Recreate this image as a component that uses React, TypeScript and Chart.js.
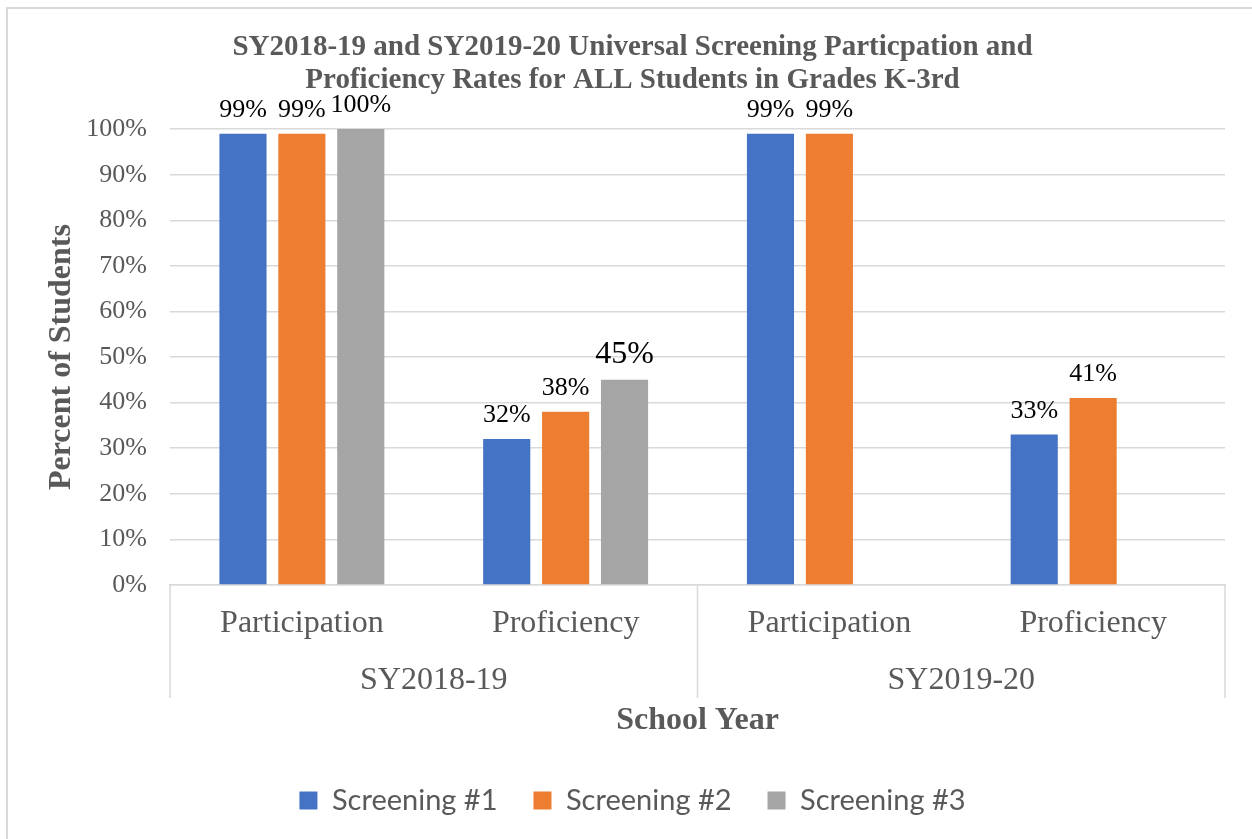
import React, { useEffect, useRef } from "react";
import { Chart, registerables } from "chart.js";

Chart.register(...registerables);

const categories = ["Participation", "Proficiency", "Participation", "Proficiency"];
const groups = ["SY2018-19", "SY2019-20"];
const seriesNames = ["Screening #1", "Screening #2", "Screening #3"];
const screening1 = [99, 32, 99, 33];
const screening2 = [99, 38, 99, 41];
const screening3: (number | null)[] = [100, 45, null, null];
const yTicks = [0, 10, 20, 30, 40, 50, 60, 70, 80, 90, 100];

const colors = ["#4472C4", "#ED7D31", "#A5A5A5"];
const GRAY_TEXT = "#595959";
const GRID = "#d9d9d9";
const SERIF = '"Liberation Serif", "Times New Roman", serif';

// label style overrides ("dataset:index" -> font size)
const labelSizeOverride: Record<string, number> = { "2:1": 32 };

const framePlugin = {
  id: "frame",
  beforeDraw(chart: any) {
    const { ctx, width, height } = chart;
    ctx.save();
    ctx.fillStyle = "#ffffff";
    ctx.fillRect(0, 0, width, height);
    ctx.fillStyle = GRID;
    ctx.fillRect(6, 7, 2, height - 7);
    ctx.fillRect(6, 7, width - 6, 2);
    ctx.restore();
  },
};

const barLabelPlugin = {
  id: "barLabels",
  afterDatasetsDraw(chart: any) {
    const { ctx } = chart;
    ctx.save();
    ctx.fillStyle = "#000000";
    ctx.textAlign = "center";
    ctx.textBaseline = "alphabetic";
    chart.data.datasets.forEach((ds: any, di: number) => {
      const meta = chart.getDatasetMeta(di);
      meta.data.forEach((bar: any, i: number) => {
        const v = ds.data[i];
        if (v === null || v === undefined) return;
        const size = labelSizeOverride[`${di}:${i}`] ?? 26;
        ctx.font = `${size}px ${SERIF}`;
        ctx.fillText(`${v}%`, bar.x, bar.y - 17);
      });
    });
    ctx.restore();
  },
};

const groupAxisPlugin = {
  id: "groupAxis",
  afterDraw(chart: any) {
    const { ctx, chartArea } = chart;
    const x = chart.scales.x;
    const per = categories.length / groups.length;
    const bounds: number[] = [chartArea.left];
    for (let g = 1; g < groups.length; g++) {
      bounds.push((x.getPixelForValue(g * per - 1) + x.getPixelForValue(g * per)) / 2);
    }
    bounds.push(chartArea.right);
    ctx.save();
    ctx.strokeStyle = GRID;
    ctx.lineWidth = 1.5;
    bounds.forEach((bx) => {
      ctx.beginPath();
      ctx.moveTo(bx, chartArea.bottom);
      ctx.lineTo(bx, chartArea.bottom + 113);
      ctx.stroke();
    });
    ctx.fillStyle = GRAY_TEXT;
    ctx.font = `32px ${SERIF}`;
    ctx.textAlign = "center";
    ctx.textBaseline = "middle";
    groups.forEach((g, gi) => {
      ctx.fillText(g, (bounds[gi] + bounds[gi + 1]) / 2, chartArea.bottom + 96);
    });
    ctx.restore();
  },
};

export default function App() {
  const ref = useRef<HTMLCanvasElement>(null);
  useEffect(() => {
    document.body.style.margin = "0";
    const data = [screening1, screening2, screening3];
    const chart = new Chart(ref.current!, {
      type: "bar",
      data: {
        labels: categories,
        datasets: seriesNames.map((name, i) => ({
          label: name,
          data: data[i],
          backgroundColor: colors[i],
          borderWidth: 0,
          categoryPercentage: 0.67,
          barPercentage: 0.8,
        })),
      },
      options: {
        animation: false,
        responsive: false,
        layout: { padding: { left: 40, right: 27, top: 0, bottom: 14 } },
        plugins: {
          title: {
            display: true,
            text: [
              "SY2018-19 and SY2019-20 Universal Screening Particpation and",
              "Proficiency Rates for ALL Students in Grades K-3rd",
            ],
            color: GRAY_TEXT,
            font: { family: SERIF, size: 29, weight: "bold", lineHeight: 1.14 },
            padding: { top: 31, bottom: 32 },
          },
          legend: {
            position: "bottom",
            labels: {
              color: GRAY_TEXT,
              font: { family: "Lato, 'Open Sans', sans-serif", size: 29 },
              boxWidth: 18,
              boxHeight: 18,
              padding: 36,
            },
          },
          tooltip: { enabled: false },
        },
        scales: {
          x: {
            grid: { display: false, drawTicks: false },
            border: { display: true, color: GRID, width: 1.5 },
            ticks: {
              color: GRAY_TEXT,
              font: { family: SERIF, size: 32 },
              padding: 19,
              maxRotation: 0,
            },
            title: {
              display: true,
              text: "School Year",
              color: GRAY_TEXT,
              font: { family: SERIF, size: 32, weight: "bold" },
              padding: { top: 0, bottom: 10 },
            },
            afterFit: (s: any) => {
              s.height = 165;
            },
          },
          y: {
            min: 0,
            max: 100,
            afterBuildTicks: (s: any) => {
              s.ticks = yTicks.map((v) => ({ value: v }));
            },
            grid: { color: GRID, lineWidth: 1.5, drawTicks: false },
            border: { display: false },
            ticks: {
              color: GRAY_TEXT,
              font: { family: SERIF, size: 26 },
              padding: 23,
              callback: (v: any) => `${v}%`,
            },
            title: {
              display: true,
              text: "Percent of Students",
              color: GRAY_TEXT,
              font: { family: SERIF, size: 32, weight: "bold" },
              padding: { top: 3, bottom: 0 },
            },
            afterFit: (s: any) => {
              s.width = 130;
            },
          },
        },
      },
      plugins: [framePlugin, barLabelPlugin, groupAxisPlugin],
    });
    return () => chart.destroy();
  }, []);
  return (
    <div style={{ width: 1252, height: 839 }}>
      <canvas ref={ref} width={1252} height={839} style={{ display: "block" }} />
    </div>
  );
}
